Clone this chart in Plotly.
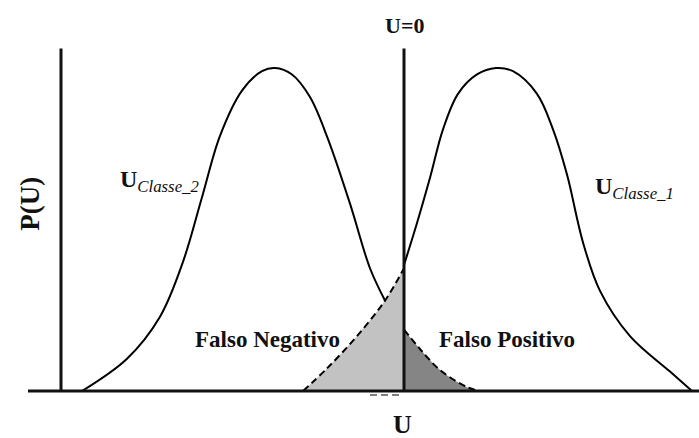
import plotly.graph_objects as go

# Curves (U units, P(U) normalised so the peak = 1)
# Classe 2 (left curve), solid part up to where it meets the other curve
classe2_x = [-3.22, -2.77, -2.44, -2.21, -2.02, -1.84, -1.62, -1.42, -1.29,
             -1.12, -0.94, -0.76, -0.54, -0.34, -0.19]
classe2_y = [0.00, 0.10, 0.23, 0.40, 0.60, 0.79, 0.93, 0.99, 1.00,
             0.98, 0.91, 0.78, 0.58, 0.38, 0.28]
# Classe 2 tail beyond U=0 (falso positivo)
classe2_tail_x = [0.00, 0.16, 0.36, 0.63, 0.76]
classe2_tail_y = [0.19, 0.13, 0.065, 0.012, 0.00]

# Classe 1 (right curve), solid part from U=0
classe1_x = [0.00, 0.13, 0.26, 0.39, 0.54, 0.73, 0.92, 1.09, 1.33, 1.49,
             1.63, 1.79, 1.96, 2.26, 2.66, 2.88]
classe1_y = [0.39, 0.52, 0.66, 0.81, 0.92, 0.98, 1.00, 0.99, 0.92, 0.81,
             0.67, 0.46, 0.31, 0.17, 0.06, 0.00]
# Classe 1 tail before U=0 (falso negativo)
classe1_tail_x = [-1.01, -0.77, -0.47, -0.19, 0.00]
classe1_tail_y = [0.00, 0.07, 0.17, 0.28, 0.38]

SERIF = "Liberation Serif, Times New Roman, serif"
LIGHT = "#c2c2c2"
DARK = "#858585"

fig = go.Figure()

# shaded error regions
fig.add_trace(go.Scatter(x=classe1_tail_x, y=classe1_tail_y, mode="lines",
                         line=dict(color="black", width=2, dash="7px,4px", shape="spline"),
                         fill="tozeroy", fillcolor=LIGHT, hoverinfo="skip"))
fig.add_trace(go.Scatter(x=classe2_tail_x, y=classe2_tail_y, mode="lines",
                         line=dict(color="black", width=2, dash="7px,4px", shape="spline"),
                         fill="tozeroy", fillcolor=DARK, hoverinfo="skip"))

# the two distributions
fig.add_trace(go.Scatter(x=classe2_x, y=classe2_y, mode="lines",
                         line=dict(color="black", width=2, shape="spline"), hoverinfo="skip"))
fig.add_trace(go.Scatter(x=classe1_x, y=classe1_y, mode="lines",
                         line=dict(color="black", width=2, shape="spline"), hoverinfo="skip"))

# axis lines and threshold
fig.add_shape(type="line", x0=-3.43, x1=-3.43, y0=0, y1=1.06, line=dict(color="#111", width=3))
fig.add_shape(type="line", x0=0, x1=0, y0=0, y1=1.06, line=dict(color="#111", width=3))
fig.add_shape(type="line", x0=-3.76, x1=2.96, y0=0, y1=0, line=dict(color="#111", width=3))
fig.add_shape(type="line", x0=-0.34, x1=-0.01, y0=-0.012, y1=-0.012,
              line=dict(color="#555", width=1.5, dash="7px,4px"))

def label(x, y, text, size, **kw):
    fig.add_annotation(x=x, y=y, text=text, showarrow=False,
                       font=dict(family=SERIF, size=size, color="#111"), **kw)

label(0, 1.133, "<b>U=0</b>", 22)
label(-3.74, 0.58, "<b>P(U)</b>", 27, textangle=-90)
label(-0.02, -0.105, "<b>U</b>", 26)
label(-2.86, 0.65, "<b>U</b><sub><i>Classe_2</i></sub>", 24, xanchor="left")
label(1.89, 0.63, "<b>U</b><sub><i>Classe_1</i></sub>", 24, xanchor="left")
label(-1.37, 0.158, "<b>Falso Negativo</b>", 23)
label(1.03, 0.158, "<b>Falso Positivo</b>", 23)

fig.update_layout(
    width=699, height=438,
    margin=dict(l=0, r=0, t=0, b=0),
    plot_bgcolor="white", paper_bgcolor="white",
    showlegend=False,
    xaxis=dict(range=[-4.04, 2.95], visible=False, fixedrange=True),
    yaxis=dict(range=[-0.1455, 1.2105], visible=False, fixedrange=True),
)

fig.write_html("out.html", config=dict(displayModeBar=False),
               post_script="document.body.style.margin='0';document.body.style.overflow='hidden';")
